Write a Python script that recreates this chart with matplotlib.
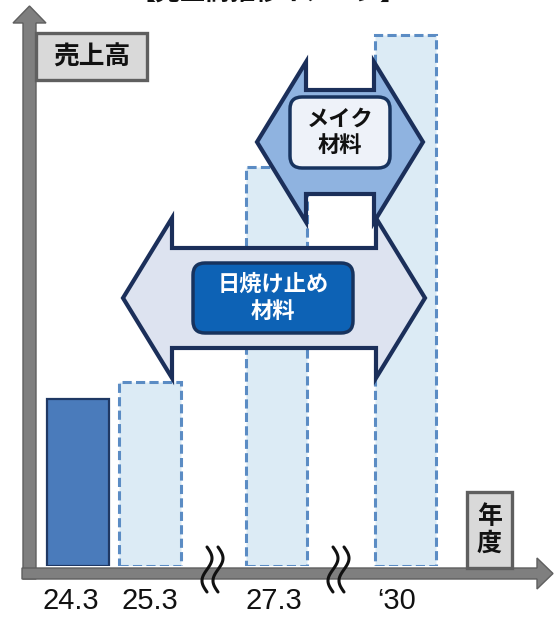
import numpy as np
import matplotlib
matplotlib.use('Agg')
import matplotlib.pyplot as plt
from matplotlib.patches import Polygon, Rectangle, FancyBboxPatch

plt.rcParams['font.family'] = ['Noto Sans CJK JP', 'DejaVu Sans']

# data
periods = ['24.3', '25.3', '27.3', '\u201830']
sales = [100, 110, 239, 318]          # relative sales (24.3 = 100)
is_actual = [True, False, False, False]

# layout (px based figure 556 x 617)
W, H = 556, 617
bar_pos = [0, 1, 2.76, 4.55]
label_pos = [-0.1, 1.0, 2.72, 4.42]
bar_width = 0.85
unit_px = 72.0       # px per x unit
x0_px = 78.0         # px of x = 0
base_px = 566.0      # baseline (from top)
px_per_val = 1.67

fig = plt.figure(figsize=(W / 100, H / 100), dpi=100)

# bar axes
axb = fig.add_axes([0, (H - base_px) / H, 1, base_px / H])
axb.set_xlim(-x0_px / unit_px, (W - x0_px) / unit_px)
axb.set_ylim(0, base_px / px_per_val)
for s in axb.spines.values():
    s.set_visible(False)
axb.set_yticks([])
axb.patch.set_alpha(0)

for p, v, act in zip(bar_pos, sales, is_actual):
    if act:
        axb.bar(p, v, width=bar_width, color='#4a7bbb', edgecolor='#1f3864',
                linewidth=1.6, zorder=2)
    else:
        axb.bar(p, v, width=bar_width, color='#dcebf5', edgecolor='#5b8cc4',
                linewidth=2.2, linestyle=(0, (3, 1.4)), zorder=2)

axb.set_xticks(label_pos)
axb.set_xticklabels(periods, family=['Liberation Sans', 'DejaVu Sans'],
                    fontsize=21, color='#111111')
axb.tick_params(axis='x', length=0, pad=15)

# overlay axes in pixel coords
ax = fig.add_axes([0, 0, 1, 1])
ax.set_xlim(0, W)
ax.set_ylim(H, 0)
ax.axis('off')
ax.set_zorder(3)
ax.patch.set_alpha(0)

gray = '#7f7f7f'
dgray = '#5f5f5f'

# y axis arrow
ax.add_patch(Polygon([(23, 579), (23, 23), (13, 23), (29.5, 6), (46, 23),
                      (36, 23), (36, 579)], closed=True, fc=gray, ec=dgray, lw=1))
# x axis arrow
ax.add_patch(Polygon([(22, 568), (537, 568), (537, 558), (553, 573.5),
                      (537, 589), (537, 579), (22, 579)], closed=True,
                     fc=gray, ec=dgray, lw=1))

# axis label boxes
ax.add_patch(Rectangle((36, 33), 111, 47, fc='#d9d9d9', ec=dgray, lw=2.4))
ax.text(91.5, 57, '売上高', ha='center', va='center', fontsize=18.5,
        fontweight='bold', color='#111111')
ax.add_patch(Rectangle((467, 492), 45, 76, fc='#d9d9d9', ec=dgray, lw=2.4))
ax.text(489.5, 530, '年\n度', ha='center', va='center', fontsize=18,
        fontweight='bold', color='#111111', linespacing=1.15)

# break marks
t = np.linspace(0, 1, 60)
for bx in [207, 333]:
    for off in [0, 11]:
        ys = 547 + 45 * t
        xs = bx + off + 5 * np.sin(2 * np.pi * t)
        ax.plot(xs, ys, color='#111111', lw=2.2, solid_capstyle='round')


def double_arrow(xl, xr, cy, hl, sh, hh, fc):
    pts = [(xl, cy), (xl + hl, cy - hh), (xl + hl, cy - sh), (xr - hl, cy - sh),
           (xr - hl, cy - hh), (xr, cy), (xr - hl, cy + hh), (xr - hl, cy + sh),
           (xl + hl, cy + sh), (xl + hl, cy + hh)]
    ax.add_patch(Polygon(pts, closed=True, fc=fc, ec='#1b2f5a', lw=3,
                         joinstyle='miter'))


navy = '#17335e'

# sunscreen arrow
double_arrow(123, 425, 298, 49, 50, 80, '#dde3f0')
ax.add_patch(FancyBboxPatch((193, 263), 160, 70,
                            boxstyle='round,pad=0,rounding_size=12',
                            fc='#0d62b5', ec=navy, lw=2.5))
ax.text(273, 298, '日焼け止め\n材料', ha='center', va='center', fontsize=16,
        fontweight='bold', color='white', linespacing=1.2)

# makeup arrow
double_arrow(257, 423, 142, 49, 52, 80, '#8fb3e0')
ax.add_patch(FancyBboxPatch((290, 97), 100, 71,
                            boxstyle='round,pad=0,rounding_size=12',
                            fc='#eef2f9', ec=navy, lw=2.5))
ax.text(340, 132.5, 'メイク\n材料', ha='center', va='center', fontsize=16,
        fontweight='bold', color='#111111', linespacing=1.2)

# title (cut off at the top edge, as in the source picture)
ax.text(268, 6, '【売上高推移イメージ】', ha='center', va='bottom',
        fontsize=18, fontweight='bold', color='#111111')

fig.savefig('out.png', dpi=100)
